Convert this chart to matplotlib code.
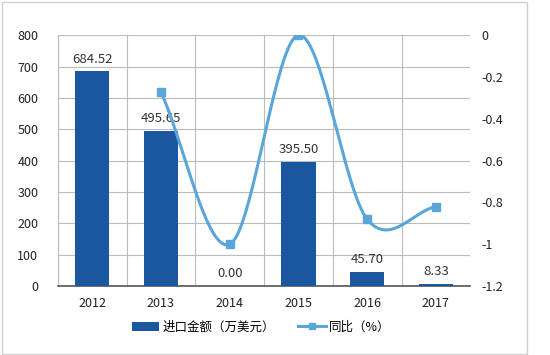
import numpy as np
import matplotlib
matplotlib.use("Agg")
import matplotlib.pyplot as plt
from matplotlib.patches import Rectangle

plt.rcParams['font.family'] = ['Noto Sans CJK SC', 'DejaVu Sans']

years = ['2012', '2013', '2014', '2015', '2016', '2017']
amount = [684.52, 495.65, 0.00, 395.50, 45.70, 8.33]
amount_labels = ['684.52', '495.65', '0.00', '395.50', '45.70', '8.33']
ratio_years_idx = [1, 2, 3, 4, 5]
ratio = [-0.27, -1.0, 0.0, -0.88, -0.82]
left_ticks = [0, 100, 200, 300, 400, 500, 600, 700, 800]
right_ticks = [0, -0.2, -0.4, -0.6, -0.8, -1, -1.2]

bar_color = '#1B57A0'
line_color = '#5AA5DA'
grid_color = '#BBBBBB'

fig = plt.figure(figsize=(5.5, 3.55), dpi=100)
ax = fig.add_axes([0.105, 0.194, 0.75, 0.707])
ax2 = ax.twinx()

x = np.arange(len(years))
ax.bar(x, amount, width=0.5, color=bar_color, zorder=3)
for xi, v, lab in zip(x, amount, amount_labels):
    ax.text(xi, v + 18, lab, ha='center', va='bottom', fontsize=9.5, color='#333333', zorder=5)

ax.set_xlim(-0.5, len(years) - 0.5)
ax.set_ylim(0, 800)
ax.set_yticks(left_ticks)
ax.set_yticklabels([str(t) for t in left_ticks])
ax.set_xticks(x)
ax.set_xticklabels(years)
ax.set_xticks(np.arange(-0.5, len(years), 0.5), minor=True)
ax.grid(axis='y', color=grid_color, linewidth=0.8, zorder=0)
ax.grid(axis='x', which='minor', color=grid_color, linewidth=0.8, zorder=0)
ax.tick_params(axis='both', which='both', length=0, labelsize=9, colors='#222222')
ax.tick_params(axis='x', pad=8)
ax.tick_params(axis='y', pad=14)
for s in ['top', 'right']:
    ax.spines[s].set_visible(False)
ax.spines['left'].set_color(grid_color)
ax.spines['bottom'].set_color('#555555')
ax.spines['bottom'].set_linewidth(1.2)

# smoothed line (Catmull-Rom through the data points)
px = np.array(ratio_years_idx, dtype=float)
py = np.array(ratio, dtype=float)
P = np.column_stack([px, py])
Pext = np.vstack([P[0] - (P[1] - P[0]), P, P[-1] + (P[-1] - P[-2])])
curve = []
for i in range(1, len(Pext) - 2):
    p0, p1, p2, p3 = Pext[i - 1], Pext[i], Pext[i + 1], Pext[i + 2]
    t = np.linspace(0, 1, 40)[:, None]
    seg = 0.5 * ((2 * p1) + (-p0 + p2) * t + (2 * p0 - 5 * p1 + 4 * p2 - p3) * t ** 2
                 + (-p0 + 3 * p1 - 3 * p2 + p3) * t ** 3)
    curve.append(seg)
curve = np.vstack(curve)
ax2.plot(curve[:, 0], curve[:, 1], color=line_color, linewidth=2.2, zorder=4)
ax2.plot(px, py, linestyle='none', marker='s', markersize=6, color=line_color, zorder=5)
ax2.set_ylim(-1.2, 0)
ax2.set_yticks(right_ticks)
ax2.set_yticklabels(['%g' % t for t in right_ticks])
ax2.tick_params(axis='y', length=0, labelsize=9, colors='#222222', pad=8)
for s in ['top', 'right', 'left', 'bottom']:
    ax2.spines[s].set_visible(False)
ax.set_zorder(1)
ax2.set_zorder(2)
ax.patch.set_visible(False)

# legend
from matplotlib.lines import Line2D
from matplotlib.patches import Patch
handles = [Patch(facecolor=bar_color, edgecolor='none'),
           Line2D([0], [0], color=line_color, linewidth=2.2, marker='s', markersize=5)]
leg = fig.legend(handles, ['进口金额（万美元）', '同比（%）'], loc='center',
                 bbox_to_anchor=(0.475, 0.078), ncol=2, frameon=False, fontsize=9,
                 handlelength=2.2, columnspacing=1.8, handletextpad=0.3)

# outer border
fig.patches.append(Rectangle((0.003, 0.004), 0.955, 0.99, transform=fig.transFigure,
                             fill=False, edgecolor='#D0D0D0', linewidth=1))

fig.savefig('out.png', dpi=100)
